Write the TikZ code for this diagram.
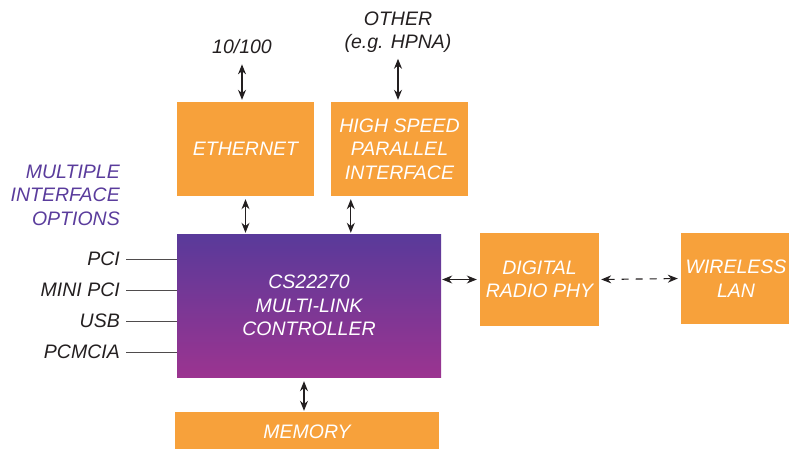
\documentclass[tikz,border=0pt]{standalone}
\usepackage{fontspec}
\setmainfont{Liberation Sans}
\usetikzlibrary{arrows.meta}
\definecolor{boxorange}{HTML}{F7A13B}
\definecolor{ctrltop}{HTML}{593A9A}
\definecolor{ctrlbot}{HTML}{9B3490}
\definecolor{optpurple}{HTML}{5A3C9C}
\definecolor{labelgray}{HTML}{231F20}
\tikzset{
  blockbox/.style={fill=boxorange, text=white, align=center, inner sep=0pt,
    font=\fontsize{19.5}{23.5}\selectfont\itshape},
  lbl/.style={text=labelgray, align=center, inner sep=0pt,
    font=\fontsize{19.5}{23.5}\selectfont\itshape},
  link/.style={line width=1.1pt, labelgray, {Stealth[length=10pt,width=8pt]}-{Stealth[length=10pt,width=8pt]}},
  busline/.style={line width=0.8pt, draw=labelgray!80}
}
\begin{document}
\begin{tikzpicture}[x=1pt,y=-1pt]
        \useasboundingbox (0,0) rectangle (789,449);
        % blocks
        \node[blockbox, minimum width=137, minimum height=94] (eth) at (245.5,149) {ETHERNET};
        \node[blockbox, minimum width=137, minimum height=94] (hs) at (399.5,149) {HIGH SPEED\\PARALLEL\\INTERFACE};
        \node[blockbox, fill=none, top color=ctrltop, bottom color=ctrlbot,
              minimum width=264, minimum height=143] (ctrl) at (309,305.5) {CS22270\\MULTI-LINK\\CONTROLLER};
        \node[blockbox, minimum width=119, minimum height=93] (phy) at (539.5,279.5) {DIGITAL\\RADIO PHY};
        \node[blockbox, minimum width=110, minimum height=91] (wlan) at (736,278.5) {WIRELESS\\LAN};
        \node[blockbox, minimum width=264, minimum height=40] (mem) at (307,432) {MEMORY};
        % outside labels
        \node[lbl] (ten) at (242,47) {10/100};
        \node[lbl] (other) at (398,32) {OTHER\\(e.g. HPNA)};
        \node[lbl, text=optpurple, align=right, anchor=east] (opts) at (120,195) {MULTIPLE\\INTERFACE\\OPTIONS};
        \node[lbl, anchor=east] (pci) at (120,259) {PCI};
        \node[lbl, anchor=east] (minipci) at (120,290) {MINI PCI};
        \node[lbl, anchor=east] (usb) at (120,321) {USB};
        \node[lbl, anchor=east] (pcmcia) at (120,352) {PCMCIA};
        % host buses
        \foreach \n in {pci,minipci,usb,pcmcia}
            \draw[busline] ([xshift=6]\n.east) -- (\n -| ctrl.west);
        % links
        \draw[link, shorten <=10pt, shorten >=2pt] (ten.south) -- (ten.south |- eth.north);
        \draw[link, shorten <=6pt, shorten >=2pt] (other.south) -- (other.south |- hs.north);
        \draw[link, shorten <=3pt, shorten >=1pt] (eth.south) -- (eth.south |- ctrl.north);
        \draw[link, shorten <=3pt, shorten >=1pt] ([xshift=20]hs.south west) -- ([xshift=20]hs.south west |- ctrl.north);
        \draw[link, shorten <=4pt, shorten >=1pt] ([xshift=-5]ctrl.south) -- ([xshift=-5]ctrl.south |- mem.north);
        \draw[link, shorten <=1pt, shorten >=3pt] (ctrl.east |- phy.center) -- (phy.west);
        \draw[link, dash pattern=on 7pt off 7pt, shorten <=2pt, shorten >=3pt] (phy.east) -- (wlan.west);
\end{tikzpicture}
\end{document}
